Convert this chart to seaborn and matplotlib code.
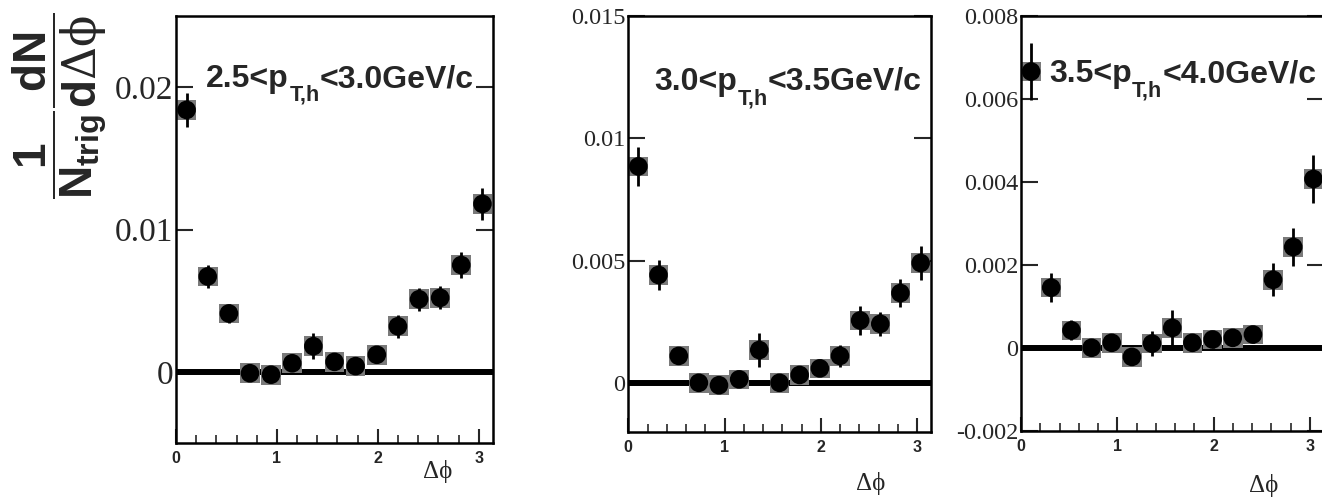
import numpy as np
import pandas as pd
import matplotlib
matplotlib.use("Agg")
import matplotlib.pyplot as plt
import seaborn as sns
from matplotlib.ticker import MultipleLocator

sns.set_style("ticks")
plt.rcParams['font.family'] = ['Liberation Sans', 'DejaVu Sans']
plt.rcParams['axes.unicode_minus'] = False
plt.rcParams['mathtext.fontset'] = 'custom'
plt.rcParams['mathtext.rm'] = 'Liberation Sans:bold'
plt.rcParams['mathtext.bf'] = 'Liberation Sans:bold'
plt.rcParams['mathtext.it'] = 'Liberation Sans:bold'
plt.rcParams['mathtext.sf'] = 'DejaVu Serif'

# ---- data ----
dphi = [0.105, 0.314, 0.524, 0.733, 0.942, 1.152, 1.361, 1.571,
        1.780, 1.990, 2.199, 2.409, 2.618, 2.827, 3.037]

y1 = [0.0184, 0.0067, 0.0041, -0.0001, -0.0002, 0.0006, 0.0018, 0.0007,
      0.0004, 0.0012, 0.0032, 0.0051, 0.0052, 0.0075, 0.0118]
e1 = [0.0012, 0.0008, 0.0007, 0.0003, 0.0003, 0.0003, 0.0009, 0.0004,
      0.0003, 0.0004, 0.0008, 0.0008, 0.0008, 0.0009, 0.0011]

y2 = [0.00885, 0.00441, 0.0011, 0.0000, -0.0001, 0.00014, 0.00134, 0.0000,
      0.00032, 0.00059, 0.0011, 0.00255, 0.00241, 0.00367, 0.0049]
e2 = [0.0008, 0.0006, 0.0003, 0.0002, 0.0002, 0.0002, 0.0007, 0.0002,
      0.0002, 0.0003, 0.00045, 0.0006, 0.0005, 0.00057, 0.00068]

y3 = [0.00666, 0.00145, 0.00042, 0.0000, 0.00012, -0.00022, 0.0001, 0.00048,
      0.00012, 0.0002, 0.00024, 0.00032, 0.00164, 0.00243, 0.00407]
e3 = [0.00068, 0.00035, 0.00024, 0.0001, 0.0001, 0.0001, 0.0003, 0.00043,
      0.0002, 0.0002, 0.0002, 0.0002, 0.0004, 0.00045, 0.00058]

label_lo = ["2.5", "3.0", "3.5"]
label_hi = ["3.0GeV/c", "3.5GeV/c", "4.0GeV/c"]
ylims = [(-0.005, 0.025), (-0.002, 0.015), (-0.002, 0.008)]
yticks = [[0, 0.01, 0.02], [0, 0.005, 0.01, 0.015],
          [-0.002, 0, 0.002, 0.004, 0.006, 0.008]]
yticklabels = [["0", "0.01", "0.02"], ["0", "0.005", "0.01", "0.015"],
               ["-0.002", "0", "0.002", "0.004", "0.006", "0.008"]]

W, H = 1322, 498
fig = plt.figure(figsize=(W / 100, H / 100), dpi=100)
renderer = fig.canvas.get_renderer()

def px_axes(l, r, t, b):
    return [l / W, 1 - b / H, (r - l) / W, (b - t) / H]

def put_label(x, y, lo, hi, size=23):
    """x, y: pixel position (from top-left) of start / baseline."""
    t1 = fig.text(x / W, 1 - y / H, lo + "<p", fontsize=size,
                  fontweight="bold", ha="left", va="baseline")
    x1 = t1.get_window_extent(renderer).x1
    t2 = fig.text(x1 / W + 0.5 / W, 1 - (y + 14) / H, "T,h",
                  fontsize=size * 0.68, fontweight="bold", ha="left",
                  va="baseline")
    x2 = t2.get_window_extent(renderer).x1
    fig.text(x2 / W, 1 - y / H, "<" + hi, fontsize=size,
             fontweight="bold", ha="left", va="baseline")

boxes = [px_axes(176, 493, 16, 443), px_axes(628.3, 930.7, 16, 431.7),
         px_axes(1021, 1323.5, 16, 430.7)]
ytick_size = [24, 17.5, 17.5]
text_pos = [(206, 87), (654, 90), (1049, 82)]
xlab_pos = [(438, 471), (871, 483), (1264, 485)]

series = [(y1, e1), (y2, e2), (y3, e3)]
for i, (box, (yv, ev)) in enumerate(zip(boxes, series)):
    ax = fig.add_axes(box)
    df = pd.DataFrame({"dphi": dphi, "y": yv, "err": ev})
    ax.axhline(0, color="black", lw=4.3, zorder=1)
    sns.scatterplot(data=df, x="dphi", y="y", marker="s", s=200,
                    color="#7a7a7a", edgecolor="none", ax=ax, zorder=2,
                    legend=False)
    ax.errorbar(df["dphi"], df["y"], yerr=df["err"], fmt="none",
                ecolor="black", elinewidth=2.0, capsize=0, zorder=3)
    sns.scatterplot(data=df, x="dphi", y="y", marker="o", s=180,
                    color="black", edgecolor="none", ax=ax, zorder=4,
                    legend=False)
    ax.set_xlim(0, np.pi)
    ax.set_ylim(*ylims[i])
    ax.set_xlabel("")
    ax.set_ylabel("")
    ax.set_xticks([0, 1, 2, 3])
    ax.xaxis.set_minor_locator(MultipleLocator(0.2))
    ax.set_xticklabels(["0", "1", "2", "3"], fontsize=11.5, fontweight="bold")
    ax.set_yticks(yticks[i])
    ax.set_yticklabels(yticklabels[i], fontsize=ytick_size[i],
                       family="Liberation Serif")
    ax.tick_params(axis="x", which="major", direction="in", length=10,
                   width=1.5, pad=6, top=False)
    ax.tick_params(axis="x", which="minor", direction="in", length=6,
                   width=1.2, top=False)
    ax.tick_params(axis="y", which="major", direction="in", length=12,
                   width=1.5, pad=2, left=True, right=True)
    for sp in ax.spines.values():
        sp.set_visible(True)
        sp.set_linewidth(1.8)
        sp.set_color("black")
    tx, ty = text_pos[i]
    put_label(tx, ty, label_lo[i], label_hi[i])
    lx, ly = xlab_pos[i]
    fig.text(lx / W, 1 - ly / H, "Δϕ", fontsize=18,
             family=["Liberation Serif", "DejaVu Serif"],
             ha="center", va="center")

fig.text(60 / W, 1 - 106 / H,
         r"$\dfrac{1}{N_{trig}}\dfrac{dN}{d\mathsf{Δϕ}}$",
         fontsize=33, rotation=90, ha="center", va="center")

fig.savefig("out.png", dpi=100)
